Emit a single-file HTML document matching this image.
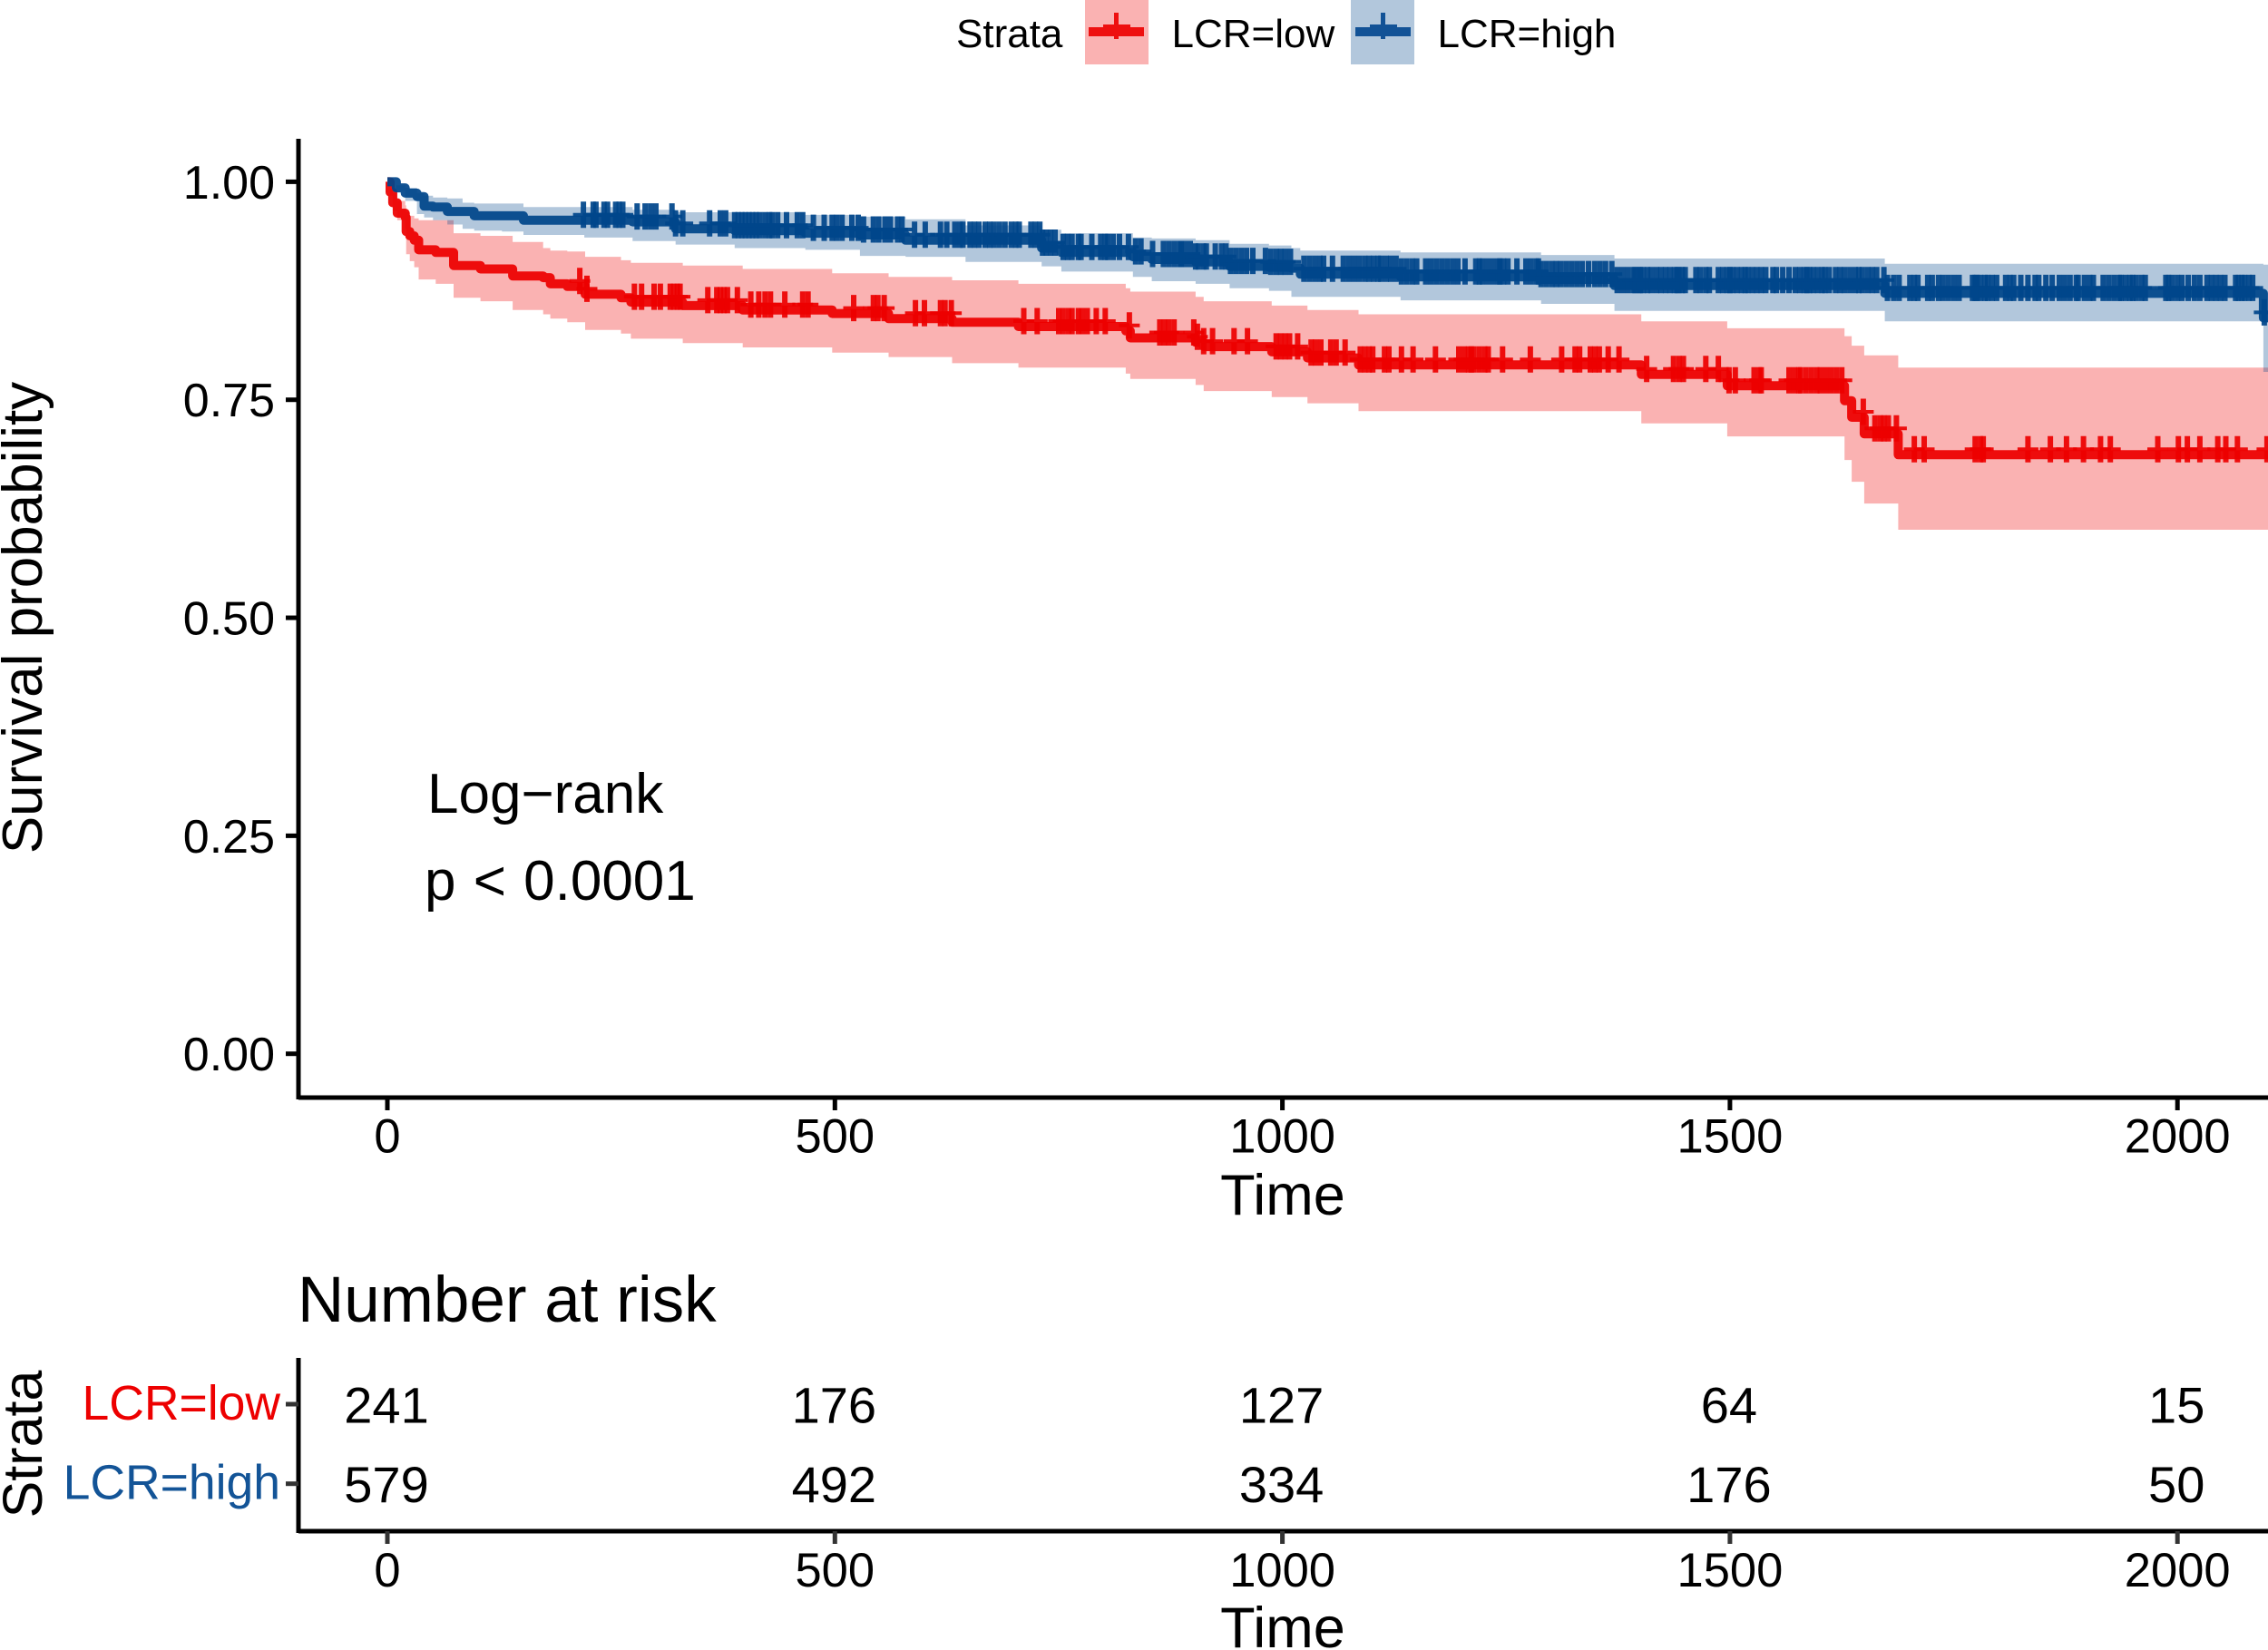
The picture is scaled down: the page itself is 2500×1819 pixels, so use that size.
<!DOCTYPE html>
<html lang="en">
<head>
<meta charset="utf-8">
<title>Kaplan-Meier survival by LCR</title>
<style>
html,body{margin:0;padding:0;background:#fff;}
svg{display:block;}
text{font-family:"Liberation Sans",Arial,sans-serif;fill:#000;}
</style>
</head>
<body>
<svg id="chart" xmlns="http://www.w3.org/2000/svg" width="2500" height="1819" viewBox="0 0 2500 1819">
  <defs>
    <clipPath id="plot-clip"><rect x="329" y="150" width="2171" height="1058"/></clipPath>
  </defs>
  <rect x="0" y="0" width="2500" height="1819" fill="#fff"/>

  <g>
    <text x="1054" y="52" font-size="44">Strata</text>
    <g>
      <rect x="1196" y="0" width="70" height="71" fill="#FAB2B2"/>
      <rect x="1200" y="30" width="61" height="10" fill="#EE1010"/>
      <rect x="1216" y="27" width="30" height="4" fill="#EE1010"/>
      <rect x="1228" y="14" width="5" height="29" fill="#EE1010"/>
      <text x="1291.5" y="52" font-size="44">LCR=low</text>
    </g>
    <g>
      <rect x="1489" y="0" width="70" height="71" fill="#B2C7DC"/>
      <rect x="1494" y="30" width="61" height="10" fill="#125296"/>
      <rect x="1510" y="27" width="30" height="4" fill="#125296"/>
      <rect x="1522" y="14" width="5" height="29" fill="#125296"/>
      <text x="1584.5" y="52" font-size="44">LCR=high</text>
    </g>
  </g>

  <g id="plot" clip-path="url(#plot-clip)"></g>
  <g id="main-axes"></g>

  <text transform="translate(46,681) rotate(-90)" text-anchor="middle" font-size="62">Survival probability</text>
  <text x="1414" y="1339" text-anchor="middle" font-size="63">Time</text>
  <text x="471" y="896" font-size="62">Log−rank</text>
  <text x="468" y="992" font-size="62" word-spacing="2">p &lt; 0.0001</text>

  <text x="328" y="1457" font-size="71">Number at risk</text>
  <g id="risk-table"></g>
  <text transform="translate(46,1592) rotate(-90)" text-anchor="middle" font-size="61">Strata</text>
  <text x="1414" y="1816" text-anchor="middle" font-size="63">Time</text>
</svg>

<script>
// ---- axis tick data ----
const xTicks = [0, 500, 1000, 1500, 2000];
const yTicks = [0, 0.25, 0.5, 0.75, 1];
const yTickLabels = ["0.00", "0.25", "0.50", "0.75", "1.00"];

// ---- LCR=low ----
const lowTimes = [0,3,6,11,20,21,25,30,35,54,74,104,140,174,182,201,221,261,272,330,397,497,560,631,705,825,830,903,912,988,1028,1085,1401,1497,1628,1636,1650,1688];
const lowSurv  = [1,.988,.976,.964,.959,.943,.938,.933,.922,.919,.904,.900,.892,.890,.883,.880,.871,.867,.862,.858,.853,.849,.843,.839,.834,.829,.821,.816,.811,.805,.798,.790,.779,.766,.749,.730,.711,.687];
const lowUpper = [1,.992,.987,.978,.973,.965,.961,.958,.956,.956,.941,.938,.931,.924,.921,.920,.914,.910,.907,.904,.900,.895,.891,.887,.883,.878,.874,.868,.863,.858,.853,.848,.840,.832,.823,.812,.801,.787];
const lowLower = [1,.984,.967,.956,.946,.917,.909,.902,.888,.883,.867,.863,.853,.848,.843,.839,.830,.826,.820,.815,.810,.804,.799,.792,.787,.780,.774,.767,.760,.753,.746,.737,.723,.708,.681,.656,.631,.601];
const lowCensor = [215,223,276,284,298,305,316,320,324,327,358,368,372,376,380,391,406,415,422,428,444,464,470,521,543,548,555,590,600,618,623,630,
  711,726,750,755,761,765,772,776,782,792,802,829,863,868,873,879,901,905,912,922,946,961,993,998,1003,1008,1017,1032,1037,1043,1054,1060,1070,1087,1092,1097,1101,1114,1119,1133,1146,1171,1197,1203,1208,1211,1214,1220,1226,1230,1246,1277,1312,1327,1332,1344,1349,1354,1364,1376,
  1407,1437,1443,1448,1473,1487,1499,1506,1527,1533,1535,1566,1572,1577,1579,1585,1591,1597,1601,1607,1613,1619,1625,1649,1662,1668,1672,1677,1686,1706,1717,1774,1780,1783,1833,1858,1876,1895,1914,1925,1978,2001,2011,2025,2045,2054,2067,2100];

// ---- LCR=high ----
const highTimes = [0,10,20,33,41,51,67,84,97,128,152,220,274,322,388,467,528,579,646,731,753,833,854,903,941,985,1010,1020,1132,1289,1371,1673,2096];
const highSurv  = [1,.993,.987,.983,.972,.971,.966,.966,.961,.961,.956,.956,.954,.946,.944,.941,.939,.933,.933,.924,.919,.914,.911,.908,.903,.902,.901,.894,.891,.888,.881,.872,.844];
const highUpper = [1,.996,.993,.987,.984,.982,.981,.976,.975,.975,.971,.971,.968,.965,.965,.962,.960,.957,.950,.945,.941,.936,.935,.933,.929,.927,.924,.921,.919,.916,.912,.906,.905];
const highLower = [1,.990,.978,.963,.959,.956,.951,.946,.944,.943,.939,.936,.932,.928,.924,.922,.915,.914,.908,.903,.897,.891,.886,.883,.878,.875,.868,.868,.864,.860,.852,.840,.782];
const highCensor = [219,230,233,242,246,255,259,263,279,288,294,300,318,322,330,360,372,378,388,392,396,400,404,408,412,416,422,427,430,436,446,458,464,476,488,497,502,508,519,526,532,543,549,556,562,570,575,589,601,618,625,
  634,640,643,651,656,661,668,673,678,684,690,697,702,706,719,724,729,732,736,741,746,755,760,765,772,775,787,797,802,805,811,818,828,836,842,855,867,873,879,885,887,891,897,903,906,912,915,925,932,937,942,948,954,960,967,981,987,993,998,1003,1009,1024,1030,1036,1042,1046,1056,1068,1074,1080,1086,1092,1097,1102,1107,1110,1116,1121,1127,1133,1139,1145,1150,1160,1166,1172,1178,1184,1190,1196,1204,1216,1220,1223,1229,1235,1241,1243,1247,1252,1262,1272,1278,1284,1286,1289,1295,1301,1306,1311,1317,1323,1329,1335,1342,1349,1355,1361,1368,1374,1380,1386,1392,
  1394,1398,1400,1403,1408,1412,1418,1423,1428,1433,1438,1441,1443,1447,1450,1462,1467,1473,1477,1487,1492,1497,1500,1503,1508,1513,1517,1520,1525,1530,1535,1540,1548,1552,1559,1566,1573,1578,1583,1586,1589,1593,1598,1603,1606,1611,1618,1623,1628,1634,1640,1644,1648,1654,1659,1664,1672,1676,1683,1689,1701,1706,1710,1721,1726,1733,1738,1744,1750,1756,1771,1774,1776,1780,1785,1788,1793,1798,1808,1813,1817,1825,1833,1841,1845,1853,1860,1868,1874,1880,1887,1889,1896,1902,1906,1917,1923,1929,1935,1937,1942,1947,1950,1954,1960,1964,1987,1990,1994,2000,2005,2012,2019,2025,2033,2038,2043,2048,2053,2065,2068,2072,2075,2080,2084,2097];

// ---- risk table ----
const riskStrata = ["LCR=low", "LCR=high"];
const riskLow  = [241, 176, 127, 64, 15];
const riskHigh = [579, 492, 334, 176, 50];

// ---- scales ----
function xScale(t) { return 427 + 0.9866 * t; }
function yScale(s) { return 1161.7 - 961.3 * s; }
function rowScale(i) { return 1548 + 87.7 * i; }
const X_END_T = 2115;

const NS = "http://www.w3.org/2000/svg";
function make(tag, attrs, parent) {
  const el = document.createElementNS(NS, tag);
  for (const k in attrs) el.setAttribute(k, attrs[k]);
  parent.appendChild(el);
  return el;
}
function stepPoints(times, vals) {
  const pts = [];
  for (let i = 0; i < times.length; i++) {
    if (i > 0) pts.push([xScale(times[i]), yScale(vals[i - 1])]);
    pts.push([xScale(times[i]), yScale(vals[i])]);
  }
  pts.push([xScale(X_END_T), yScale(vals[vals.length - 1])]);
  return pts;
}
function toPath(pts) {
  return pts.map((p, i) => (i ? "L" : "M") + p[0].toFixed(1) + " " + p[1].toFixed(1)).join("");
}
function survAt(times, surv, t) {
  let v = surv[0];
  for (let i = 0; i < times.length; i++) { if (times[i] <= t) v = surv[i]; }
  return v;
}

const plot = document.getElementById("plot");
const series = [
  { key: "low",  color: "#ED0000", band: "#ED0000", times: lowTimes,  surv: lowSurv,  upper: lowUpper,  lower: lowLower,  censor: lowCensor },
  { key: "high", color: "#00468B", band: "#00468B", times: highTimes, surv: highSurv, upper: highUpper, lower: highLower, censor: highCensor }
];

// survival curves
series.forEach(function (s) {
  const line = make("path", { d: toPath(stepPoints(s.times, s.surv)), fill: "none", stroke: s.color, "stroke-width": 10, "stroke-linejoin": "round", "stroke-opacity": 0.93 }, plot);
  
  
});
// confidence bands
series.forEach(function (s) {
  const up = stepPoints(s.times, s.upper);
  const lo = stepPoints(s.times, s.lower).reverse();
  const band = make("path", { d: toPath(up.concat(lo)) + "Z", fill: s.band, "fill-opacity": 0.3, stroke: "none" }, plot);
  
  
});
// censor marks
series.forEach(function (s) {
  const group = make("g", {}, plot);
  
  
  s.censor.forEach(function (t) {
    const cx = xScale(t);
    const cy = yScale(survAt(s.times, s.surv, t)) - 6;
    const mark = make("path", { d: "M" + (cx - 3).toFixed(1) + " " + (cy - 14.5).toFixed(1) + "h6v12.5h8.5v4h-8.5v12.5h-6v-12.5h-8.5v-4h8.5z", fill: s.color, "fill-opacity": 0.93 }, group);
    
    
  });
});

// main axes
const axes = document.getElementById("main-axes");
const yAxisLine = make("line", { x1: 329, y1: 153, x2: 329, y2: 1212, stroke: "#000", "stroke-width": 5 }, axes);


const xAxisLine = make("line", { x1: 329, y1: 1210, x2: 2500, y2: 1210, stroke: "#000", "stroke-width": 5 }, axes);



yTicks.forEach(function (v, i) {
  const y = yScale(v);
  const tick = make("line", { x1: 315, y1: y, x2: 329, y2: y, stroke: "#000", "stroke-width": 5 }, axes);
  
  
  const label = make("text", { x: 303, y: y + 18.5, "text-anchor": "end", "font-size": 52 }, axes);
  
  
  label.textContent = yTickLabels[i];
});
xTicks.forEach(function (v) {
  const x = xScale(v);
  const tick = make("line", { x1: x, y1: 1210, x2: x, y2: 1224, stroke: "#000", "stroke-width": 5 }, axes);
  
  
  const label = make("text", { x: x, y: 1270.5, "text-anchor": "middle", "font-size": 52.5 }, axes);
  
  
  label.textContent = String(v);
});

// risk table
const risk = document.getElementById("risk-table");
const riskY = make("line", { x1: 329, y1: 1497, x2: 329, y2: 1690, stroke: "#000", "stroke-width": 5 }, risk);


const riskX = make("line", { x1: 329, y1: 1688, x2: 2500, y2: 1688, stroke: "#000", "stroke-width": 5 }, risk);



const riskRows = [riskLow, riskHigh];
const riskColors = ["#ED0000", "#135497"];
riskStrata.forEach(function (name, r) {
  const y = rowScale(r);
  const tick = make("line", { x1: 315, y1: y, x2: 329, y2: y, stroke: "#333", "stroke-width": 5 }, risk);
  
  
  const label = make("text", { x: 309, y: y + 17, "text-anchor": "end", "font-size": 53.5 }, risk);
  
  
  label.style.fill = riskColors[r];
  label.textContent = name;
  riskRows[r].forEach(function (n, i) {
    const cell = make("text", { x: xScale(xTicks[i]) - 1, y: y + 20.5, "text-anchor": "middle", "font-size": 56 }, risk);
    
    
    cell.textContent = String(n);
  });
});
xTicks.forEach(function (v) {
  const x = xScale(v);
  const tick = make("line", { x1: x, y1: 1688, x2: x, y2: 1702, stroke: "#333", "stroke-width": 5 }, risk);
  
  
  const label = make("text", { x: x, y: 1749, "text-anchor": "middle", "font-size": 52.5 }, risk);
  
  
  label.textContent = String(v);
});
</script>
</body>
</html>
